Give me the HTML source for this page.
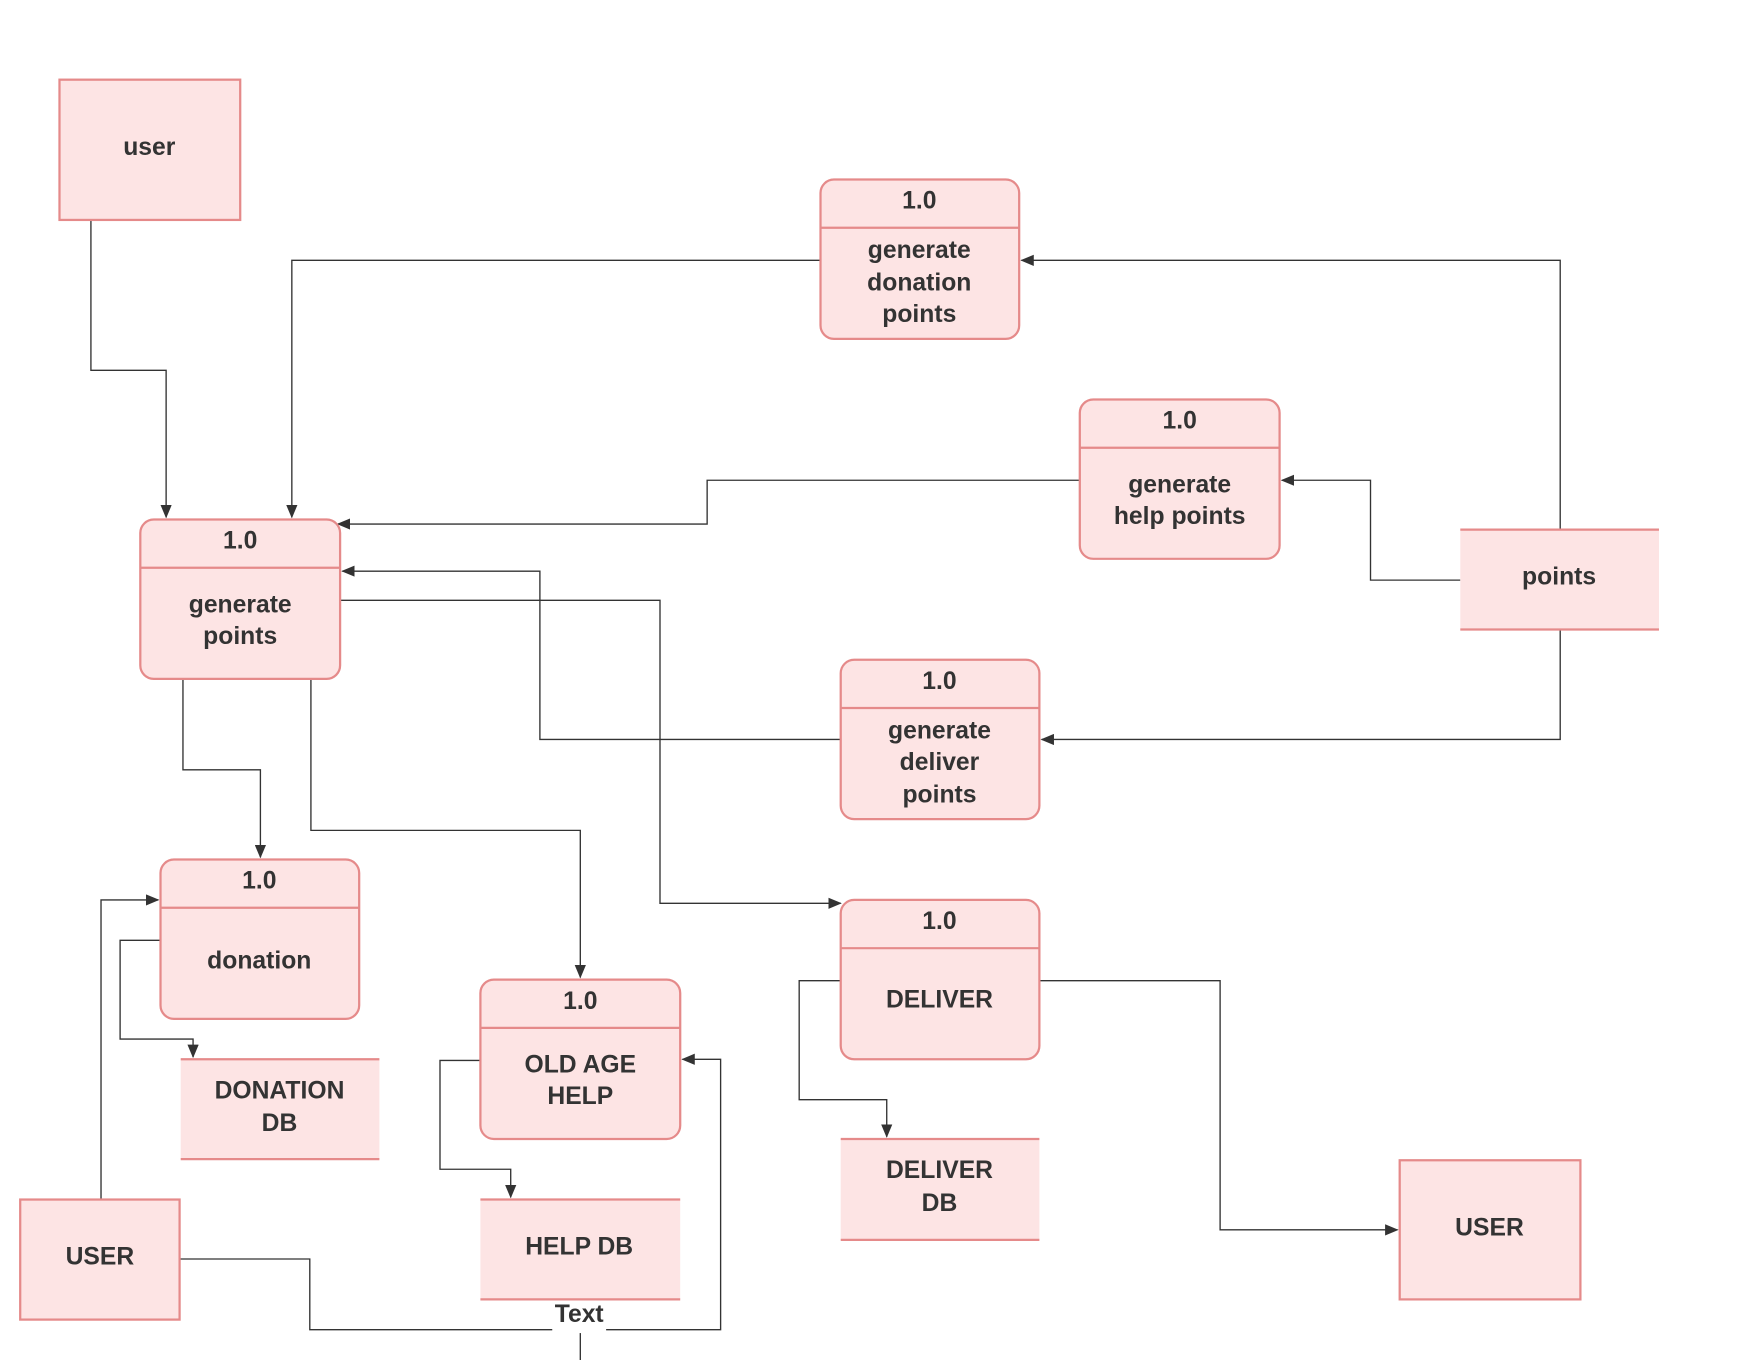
<!DOCTYPE html>
<html><head><meta charset="utf-8"><style>
html,body{margin:0;padding:0;background:#fff;}
svg{display:block;}
text{font-family:"Liberation Sans",sans-serif;font-weight:bold;fill:#333;font-size:22px;text-anchor:middle;}
.b{fill:#fde4e4;stroke:#e58a8a;stroke-width:2;}
.s{fill:none;stroke:#e58a8a;stroke-width:2;}
.l{fill:none;stroke:#333;stroke-width:1.2;}
</style></head><body>
<svg width="1760" height="1360" viewBox="0 0 1568 1212" preserveAspectRatio="none">
<defs><marker id="a" markerWidth="12" markerHeight="10" refX="11" refY="5" orient="auto" markerUnits="userSpaceOnUse"><path d="M0,0 L12,5 L0,10 z" fill="#333"/></marker></defs>
<rect width="1568" height="1212" fill="#fff"/>
<!-- connectors -->
<g class="l" marker-end="url(#a)">
<polyline points="81,196 81,330 148,330 148,461"/>
<polyline points="731,232 260,232 260,461"/>
<polyline points="1390,472 1390,232 910,232"/>
<polyline points="962,428 630,428 630,467 301,467"/>
<polyline points="1301,517 1221,517 1221,428 1142,428"/>
<polyline points="1390,561 1390,659 928,659"/>
<polyline points="749,659 481,659 481,509 305,509"/>
<polyline points="303,535 588,535 588,805 749,805"/>
<polyline points="163,605 163,686 232,686 232,764"/>
<polyline points="277,605 277,740 517,740 517,871"/>
<polyline points="143,838 107,838 107,926 172,926 172,942"/>
<polyline points="90,1069 90,802 141,802"/>
<polyline points="428,945 392,945 392,1042 455,1042 455,1067"/>
<polyline points="540,1185 642,1185 642,944 608,944"/>
<polyline points="749,874 712,874 712,980 790,980 790,1013"/>
<polyline points="926,874 1087,874 1087,1096 1245,1096"/>
</g>
<polyline class="l" points="160,1122 276,1122 276,1185 492,1185"/>
<line class="l" x1="517" y1="1188" x2="517" y2="1212"/>
<text x="516" y="1178">Text</text>
<!-- entities -->
<rect class="b" x="53" y="71" width="161" height="125"/><text x="133" y="138">user</text>
<rect class="b" x="18" y="1069" width="142" height="107"/><text x="89" y="1127">USER</text>
<rect class="b" x="1247" y="1034" width="161" height="124"/><text x="1327" y="1101">USER</text>
<!-- stores -->
<rect x="1301" y="472" width="177" height="89" fill="#fde4e4"/><line class="s" x1="1301" y1="472" x2="1478" y2="472"/><line class="s" x1="1301" y1="561" x2="1478" y2="561"/><text x="1389" y="521">points</text>
<rect x="161" y="944" width="177" height="89" fill="#fde4e4"/><line class="s" x1="161" y1="944" x2="338" y2="944"/><line class="s" x1="161" y1="1033" x2="338" y2="1033"/><text x="249" y="979">DONATION</text><text x="249" y="1008">DB</text>
<rect x="749" y="1015" width="177" height="90" fill="#fde4e4"/><line class="s" x1="749" y1="1015" x2="926" y2="1015"/><line class="s" x1="749" y1="1105" x2="926" y2="1105"/><text x="837" y="1050">DELIVER</text><text x="837" y="1079">DB</text>
<rect x="428" y="1069" width="178" height="89" fill="#fde4e4"/><line class="s" x1="428" y1="1069" x2="606" y2="1069"/><line class="s" x1="428" y1="1158" x2="606" y2="1158"/><text x="516" y="1118">HELP DB</text>
<!-- processes -->
<rect class="b" x="731" y="160" width="177" height="142" rx="12"/><line class="s" x1="731" y1="203" x2="908" y2="203"/><text x="819" y="186">1.0</text><text x="819" y="230">generate</text><text x="819" y="259">donation</text><text x="819" y="287">points</text>
<rect class="b" x="962" y="356" width="178" height="142" rx="12"/><line class="s" x1="962" y1="399" x2="1140" y2="399"/><text x="1051" y="382">1.0</text><text x="1051" y="439">generate</text><text x="1051" y="467">help points</text>
<rect class="b" x="125" y="463" width="178" height="142" rx="12"/><line class="s" x1="125" y1="506" x2="303" y2="506"/><text x="214" y="489">1.0</text><text x="214" y="546">generate</text><text x="214" y="574">points</text>
<rect class="b" x="749" y="588" width="177" height="142" rx="12"/><line class="s" x1="749" y1="631" x2="926" y2="631"/><text x="837" y="614">1.0</text><text x="837" y="658">generate</text><text x="837" y="686">deliver</text><text x="837" y="715">points</text>
<rect class="b" x="143" y="766" width="177" height="142" rx="12"/><line class="s" x1="143" y1="809" x2="320" y2="809"/><text x="231" y="792">1.0</text><text x="231" y="863">donation</text>
<rect class="b" x="428" y="873" width="178" height="142" rx="12"/><line class="s" x1="428" y1="916" x2="606" y2="916"/><text x="517" y="899">1.0</text><text x="517" y="956">OLD AGE</text><text x="517" y="984">HELP</text>
<rect class="b" x="749" y="802" width="177" height="142" rx="12"/><line class="s" x1="749" y1="845" x2="926" y2="845"/><text x="837" y="828">1.0</text><text x="837" y="898">DELIVER</text>
</svg>
</body></html>
